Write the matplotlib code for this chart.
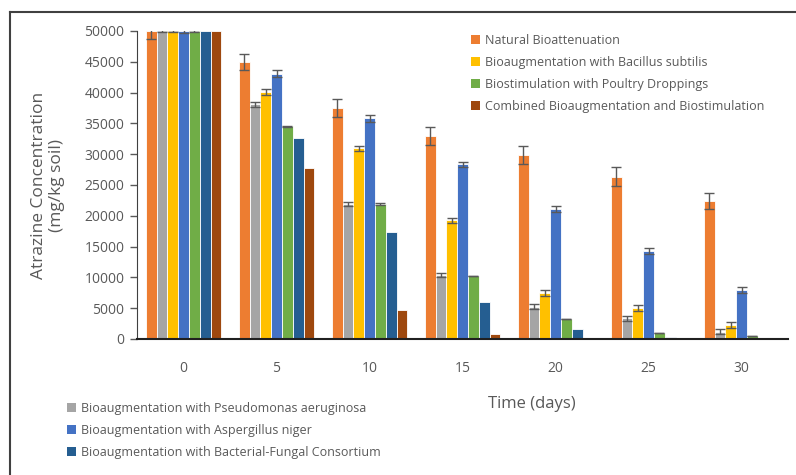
import numpy as np
import matplotlib.pyplot as plt
from matplotlib.lines import Line2D
from matplotlib.patches import Patch

plt.rcParams['font.family'] = ['Open Sans', 'DejaVu Sans']

days = ["0", "5", "10", "15", "20", "25", "30"]

series = [
    "Natural Bioattenuation",
    "Bioaugmentation with Pseudomonas aeruginosa",
    "Bioaugmentation with Bacillus subtilis",
    "Bioaugmentation with Aspergillus niger",
    "Biostimulation with Poultry Droppings",
    "Bioaugmentation with Bacterial-Fungal Consortium",
    "Combined Bioaugmentation and Biostimulation",
]
colors = ["#ED7D31", "#A5A5A5", "#FFC000", "#4472C4", "#70AD47", "#255E91", "#9E480E"]

natural = [50000, 45000, 37500, 32950, 29900, 26350, 22450]
pseudomonas = [50000, 38100, 21950, 10400, 5250, 3350, 1200]
bacillus = [50000, 40050, 30950, 19300, 7500, 5100, 2300]
aspergillus = [50000, 43100, 35800, 28400, 21050, 14350, 7950]
poultry = [50000, 34500, 21900, 10300, 3250, 900, 450]
consortium = [50000, 32700, 17300, 5950, 1700, 250, 0]
combined = [50000, 27800, 4700, 760, 0, 0, 0]

err_natural = [1300, 1300, 1400, 1400, 1450, 1500, 1300]
err_pseudomonas = [200, 400, 300, 300, 400, 400, 400]
err_bacillus = [200, 500, 400, 400, 500, 500, 500]
err_aspergillus = [300, 600, 500, 400, 500, 500, 500]
err_poultry = [100, 100, 100, 0, 0, 0, 0]

values = [natural, pseudomonas, bacillus, aspergillus, poultry, consortium, combined]
errors = [err_natural, err_pseudomonas, err_bacillus, err_aspergillus, err_poultry, None, None]

fig = plt.figure(figsize=(7.96, 4.75), dpi=100)
ax = fig.add_axes([137 / 796, 1 - 339 / 475, (788 - 137) / 796, (339 - 31) / 475])

x = np.arange(len(days))
slot = 10.8 / 93
for i, (vals, col) in enumerate(zip(values, colors)):
    pos = x + (i - 3) * slot
    ax.bar(pos, vals, width=slot, color=col, edgecolor="white", linewidth=0.6, zorder=2)
    if errors[i] is not None:
        ax.errorbar(pos, vals, yerr=errors[i], fmt="none", ecolor="#595959",
                    elinewidth=1.0, capsize=3.5, capthick=1.0, zorder=3)

ax.set_xlim(-0.5, len(days) - 0.5)
ax.set_ylim(0, 50000)
ax.set_yticks(np.arange(0, 50001, 5000))
ax.set_xticks(x)
ax.set_xticklabels(days)
ax.tick_params(axis="x", length=0, pad=16, labelsize=10, labelcolor="#595959")
ax.tick_params(axis="y", length=5, width=1, color="#595959", labelsize=10, labelcolor="#595959", pad=4)
for s in ["top", "right"]:
    ax.spines[s].set_visible(False)
ax.spines["left"].set_color("#404040")
ax.spines["bottom"].set_color("#202020")
ax.spines["bottom"].set_linewidth(1.5)

ax.set_ylabel("Atrazine Concentration\n(mg/kg soil)", fontsize=12.5, color="#595959", labelpad=14)
ax.set_xlabel("Time (days)", fontsize=12, color="#595959")
ax.xaxis.set_label_coords((532 - 137) / 651, -0.185)

def handles(idx):
    return [Patch(facecolor=colors[k], edgecolor="none") for k in idx]

top_idx = [0, 2, 4, 6]
bot_idx = [1, 3, 5]
leg_kw = dict(frameon=False, fontsize=9, handlelength=0.7, handleheight=0.7,
              handletextpad=0.4, labelspacing=0.72, labelcolor="#595959", borderaxespad=0)
fig.legend(handles(top_idx), [series[k] for k in top_idx], loc="upper left",
           bbox_to_anchor=(466 / 796, 1 - 29 / 475), **leg_kw)
fig.legend(handles(bot_idx), [series[k] for k in bot_idx], loc="upper left",
           bbox_to_anchor=(62 / 796, 1 - 397 / 475), **leg_kw)

# outer frame (left and top only)
fig.add_artist(Line2D([10 / 796, 10 / 796], [0, 1 - 12 / 475], transform=fig.transFigure,
                      color="#404040", linewidth=1.5))
fig.add_artist(Line2D([10 / 796, 1], [1 - 12 / 475, 1 - 12 / 475], transform=fig.transFigure,
                      color="#404040", linewidth=1.5))

fig.savefig("out.png", dpi=100)
